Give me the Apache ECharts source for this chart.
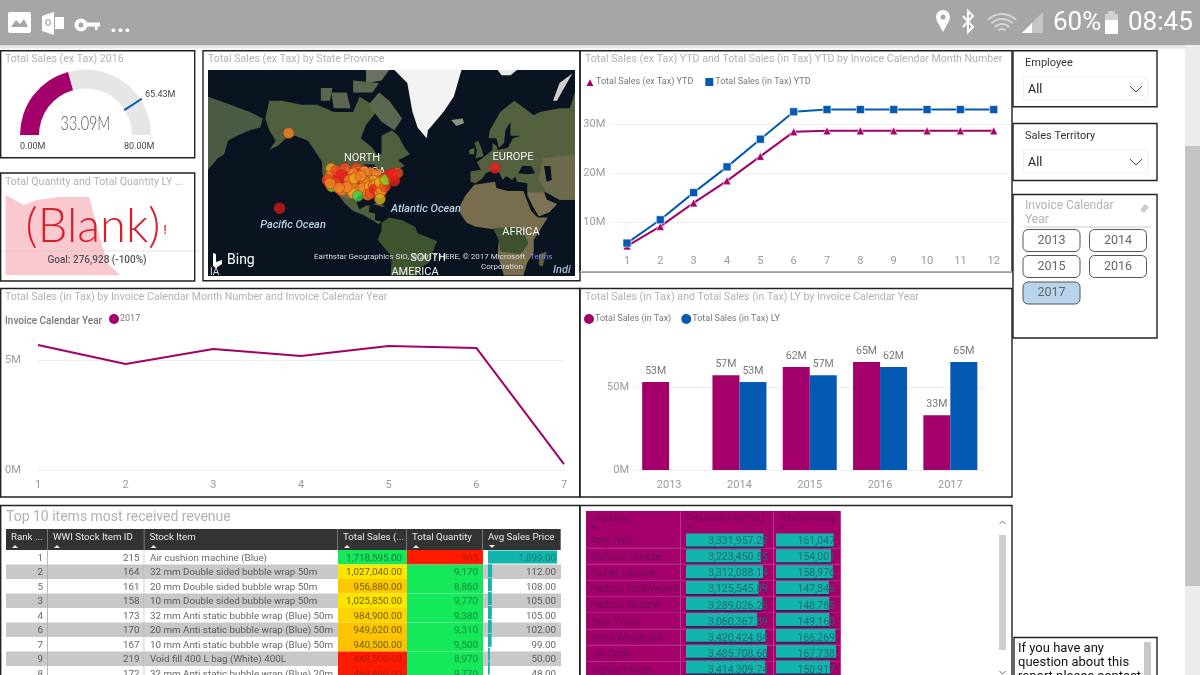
<!DOCTYPE html>
<html><head><meta charset="utf-8">
<style>html,body{margin:0;padding:0;background:#fff}#c{width:1200px;height:675px}</style>
<script src="https://cdn.jsdelivr.net/npm/echarts@6/dist/echarts.min.js"></script>
</head><body><div id="c"></div>
<script>
// ---------- data ----------
const gaugeValue = 33.09, gaugeTarget = 65.43, gaugeMax = 80;
const kpiX = [0,16,27,47,73,83,89,100];
const kpiQty = [80,70,75,78,78,35,12,0];
const ytdMonths = ['1','2','3','4','5','6','7','8','9','10','11','12'];
const ytdEx = [5.2,9.2,14,18.5,23.5,28.5,28.7,28.7,28.7,28.7,28.7,28.7];
const ytdIn = [5.8,10.55,16.1,21.35,27,32.6,33.05,33.05,33.05,33.05,33.05,33.05];
const monthNums = ['1','2','3','4','5','6','7'];
const month2017 = [5.68,4.82,5.5,5.18,5.64,5.55,0.27];
const years = ['2013','2014','2015','2016','2017'];
const salesIn = [53,57,62,65,33];
const salesLY = [null,53,57,62,65];
const statePlaces = [
 [-150,61,'o'],[-157,19,'d'],[10,45,'r'],
 [-117.1,44.7,'g'],[-117.9,40.2,'o'],[-116.6,34,'l'],[-111.5,41,'r'],[-106.3,44.7,'s'],[-104.2,39.6,'r'],
 [-108.6,36.1,'r'],[-113.5,36.1,'s'],[-108.9,31.5,'o'],[-102.4,32,'g'],[-97.2,44.7,'s'],[-96.7,41,'r'],[-96.5,37.5,'r'],
 [-86.4,42.2,'o'],[-91.3,43,'o'],[-81.7,41.6,'o'],[-89.5,34.9,'g'],[-94.7,32.4,'g'],[-101.1,35.5,'o'],[-84.3,37.5,'g'],[-91.3,37.5,'o'],
 [-113,43.5,'s'],[-109,41,'r'],[-100,42,'o'],[-103,38,'o'],[-99,39,'g'],[-94,40.5,'o'],[-92,33,'o'],[-87,34,'g'],[-84,34.5,'o'],[-82,35,'g'],
 [-100,29.5,'g'],[-105,33.5,'o'],[-111,33,'o'],[-120,38,'s'],[-118,36,'o'],[-76,39,'s'],[-73,40.5,'r'],
 [-96.2,27.7,'m'],[-88.7,28.5,'o'],[-86.4,29.5,'s'],[-83,32.2,'r'],[-79.2,30,'g'],[-77.9,31.4,'o'],[-79.2,36.5,'g'],[-75.3,34,'s'],
 [-74.8,38.1,'l'],[-79.2,25.5,'y'],[-68.8,40.6,'r'],[-65.5,42.2,'s'],[-68.1,37.5,'r'],[-70.1,41.6,'r']
];
const itemRank = [1,2,5,3,4,6,7,9,8];
const itemId = [215,164,161,158,173,170,167,219,172];
const itemName = ['Air cushion machine (Blue)','32 mm Double sided bubble wrap 50m','20 mm Double sided bubble wrap 50m','10 mm Double sided bubble wrap 50m','32 mm Anti static bubble wrap (Blue) 50m','20 mm Anti static bubble wrap (Blue) 50m','10 mm Anti static bubble wrap (Blue) 50m','Void fill 400 L bag (White) 400L','32 mm Anti static bubble wrap (Blue) 20m'];
const itemSales = [1718595,1027040,956880,1025850,984900,949620,940500,448500,468960];
const itemQty = [905,9170,8860,9770,9380,9310,9500,8970,9770];
const itemPrice = [1899,112,108,105,105,102,99,50,48];
const itemHeaders = ['Rank ...','WWI Stock Item ID','Stock Item','Total Sales (...','Total Quantity','Avg Sales Price'];
const empNames = ['Amy Trefl','Anthony Grosse','Archer Lamble','Hudson Hollinworth','Hudson Onslow','Jack Potter','Kayla Woodcock','Lily Code','Sophia Hinton'];
const empSales = [3331957.22,3223450.55,3312088.14,3125545.89,3289026.25,3060367.89,3420424.84,3485708.68,3414309.74];
const empQty = [161047,154001,158976,147846,148785,149160,166269,167738,150917];
const empHeaders = ['Employee','Total Sales (in Tax)','Total Quantity'];
const yearSlicer = ['2013','2014','2015','2016','2017'];

// ---------- base map outlines (rough lon/lat) ----------
const land = {
 ocean:[[-212.5,-31.4],[72,-31.4],[72,77.4],[-212.5,77.4]],
 siberia:[[-212.5,72],[-195,70],[-180,68],[-170,66],[-172,63],[-180,62],[-190,60],[-197,58],[-200,52],[-205,50],[-212.5,44]],
 northAmerica:[[-168,66],[-165,71],[-155,71],[-140,70],[-128,70],[-115,68],[-100,68],[-95,72],[-85,70],[-82,68],[-90,64],[-94,59],[-85,55],[-82,52],[-78,52],[-78,60],[-70,62],[-65,60],[-60,55],[-56,52],[-65,49],[-60,46],[-66,44],[-70,43],[-74,40],[-76,35],[-81,31],[-80,26],[-82,27],[-84,30],[-90,29],[-97,27],[-97,22],[-95,18],[-90,21],[-87,21],[-88,16],[-83,15],[-83,10],[-78,9],[-80,7],[-85,10],[-92,14],[-100,17],[-106,22],[-112,29],[-115,31],[-118,34],[-122,38],[-124,42],[-124,48],[-130,54],[-135,58],[-145,60],[-152,59],[-158,56],[-165,54],[-160,58],[-165,62]],
 usWest:[[-122,38],[-118,34],[-115,31],[-106,26],[-100,26],[-98,32],[-101,46],[-118,46]],
 greatLakes:[[-92,47],[-84,47],[-80,44],[-83,42],[-87,42],[-88,45]],
 baffin:[[-80,73],[-72,71],[-62,66],[-68,62],[-78,65],[-88,70]],
 victoria:[[-117,73],[-105,73],[-102,69],[-115,69]],
 ellesmere:[[-90,77.4],[-72,77.4],[-78,75.5],[-90,75]],
 banks:[[-125,74],[-116,74],[-118,71],[-125,71]],
 devon:[[-100,75.5],[-80,75],[-85,73],[-100,73]],
 greenland:[[-68,77.4],[-16,77.4],[-22,72],[-30,68],[-42,62],[-43,59],[-50,63],[-54,68],[-58,75]],
 iceland:[[-24,65.5],[-15,66],[-14,64.5],[-20,63.5]],
 svalbard:[[12,77.4],[27,77.4],[22,76.5],[15,76.5]],
 novaya:[[55,71],[60,75],[70,76.8],[68,76],[58,71]],
 eurasia:[[-9,37],[-9,43],[-1,44],[-4,48],[2,51],[8,54],[8,57],[11,56],[12,54],[20,55],[24,59],[30,60],[22,60],[22,65],[18,62],[17,57],[13,55],[11,59],[5,59],[6,62],[14,68],[25,71],[40,67],[45,68],[60,69],[68,69],[72,73],[72,25],[60,25],[56,27],[50,30],[48,30],[50,25],[58,22],[52,16],[44,13],[39,21],[35,28],[35,36],[27,37],[26,40],[23,38],[20,40],[18,40],[16,38],[12,44],[9,44],[3,42],[0,39],[-5,36]],
 centralAsia:[[47,50],[72,52],[72,25],[60,25],[56,27],[50,30],[44,38]],
 arabia:[[35,30],[48,30],[50,25],[58,22],[52,16],[44,13],[39,21]],
 blackSea:[[28,42],[31,46],[38,46],[41,42],[35,41.5]],
 caspian:[[48,46],[53,46],[54,38],[50,37]],
 britain:[[-5,50],[1,51],[0,54],[-3,58],[-6,57],[-4,54]],
 ireland:[[-10,52],[-6,52],[-6,55],[-10,54]],
 africa:[[-17,15],[-17,21],[-13,28],[-6,35],[10,37],[11,33],[20,31],[32,31],[35,24],[38,17],[43,12],[51,12],[40,-5],[40,-15],[35,-22],[32,-31],[17,-31],[12,-17],[13,-5],[9,3],[-5,5],[-12,8]],
 congo:[[9,4],[30,5],[36,-8],[30,-16],[14,-14],[13,-5]],
 madagascar:[[44,-16],[50,-14],[47,-25],[44,-24]],
 southAmerica:[[-78,8],[-72,12],[-62,10],[-52,5],[-50,0],[-35,-6],[-39,-16],[-41,-22],[-48,-26],[-50,-31],[-71,-31],[-70,-18],[-81,-5],[-78,2]],
 cuba:[[-85,22],[-80,23],[-75,20],[-78,20]]
};
const landColor = {ocean:'#091420',siberia:'#4c5c44',northAmerica:'#505f3d',usWest:'#6c6a4a',greatLakes:'#12202e',baffin:'#5d6650',victoria:'#5d6650',ellesmere:'#6b7060',banks:'#5d6650',devon:'#5d6650',greenland:'#f2f3f1',iceland:'#8d9484',svalbard:'#e8e8e8',novaya:'#cfd0cc',eurasia:'#55603f',centralAsia:'#6e6a4e',arabia:'#7d7254',blackSea:'#091420',caspian:'#091420',britain:'#4f5f3d',ireland:'#4f6a3d',africa:'#786e4e',congo:'#3f5230',madagascar:'#5b5f3d',southAmerica:'#3f5530',cuba:'#4f5f3d'};
const placeColor = {r:'#e8201e',d:'#d01616',s:'#ee4a1c',o:'#ef8420',g:'#e8a81e',y:'#d8b81e',l:'#82d828',m:'#32d84a'};

const geoJson = {type:'FeatureCollection',features:Object.keys(land).map(n=>({type:'Feature',properties:{name:n},geometry:{type:'Polygon',coordinates:[land[n].concat([land[n][0]])]}}))};
echarts.registerMap('bingBase',geoJson);
const R2D = 180/Math.PI;
const mercator = {
  project:p=>[p[0],-Math.log(Math.tan(Math.PI/4+p[1]/R2D/2))*R2D],
  unproject:p=>[p[0],(2*Math.atan(Math.exp(-p[1]/R2D))-Math.PI/2)*R2D]
};

// ---------- style ----------
const PURPLE='#a3006b', BLUE='#0459b3', TEAL='#12b5ab', FONT='Roboto,"Open Sans",sans-serif', TGRAY='#b2b2b2', AXIS='#9a9a9a';
const g=[];
const R=(x,y,w,h,fill,stroke,lw,r,z)=>g.push({type:'rect',z:z==null?0:z,silent:true,shape:{x,y,width:w,height:h,r:r||0},style:{fill:fill||'transparent',stroke:stroke||null,lineWidth:lw||0}});
const T=(text,x,y,font,fill,align,z)=>g.push({type:'text',z:z==null?10:z,silent:true,style:{text,x,y:y+1,font,fill,align:align||'left',verticalAlign:'middle'}});
const L=(pts,stroke,lw,z)=>g.push({type:'polyline',z:z==null?10:z,silent:true,shape:{points:pts},style:{stroke,lineWidth:lw,fill:'none'}});
const P=(pts,fill,z)=>g.push({type:'polygon',z:z==null?10:z,silent:true,shape:{points:pts},style:{fill}});
const C=(cx,cy,r,fill,z)=>g.push({type:'circle',z:z==null?10:z,silent:true,shape:{cx,cy,r},style:{fill}});
const A=(cx,cy,r,a0,a1,stroke,lw)=>g.push({type:'arc',z:10,silent:true,shape:{cx,cy,r,startAngle:a0,endAngle:a1},style:{stroke,lineWidth:lw,fill:'none'}});

// top bars
R(0,0,1200,45,'#a6a6a6');
g.push({type:'rect',z:0,silent:true,shape:{x:0,y:45,width:1185,height:5},style:{fill:new echarts.graphic.LinearGradient(0,0,0,1,[{offset:0,color:'#d8d8d8'},{offset:1,color:'#ffffff'}])}});
R(1185,45,15,630,'#ececec'); R(1185,146,15,440,'#c4c4c4');
// status icons
R(8,12,23,21,'#fff',null,0,2,10); P([[11,27],[16,20],[20,24],[24,19],[28,27]],'#a6a6a6');
P([[42,16],[54,12],[54,35],[42,31]],'#fff'); T('O',48,23,'bold 9px '+FONT,'#a6a6a6','center'); R(55,17,9,12,'#fff',null,0,0,10);
C(81,25,6.5,'#fff'); C(81,25,2.5,'#a6a6a6'); R(86,22.5,14,4,'#fff',null,0,0,10); R(95,25,2.5,5,'#fff',null,0,0,10);
T('...',110,25,'bold 24px '+FONT,'#fff');
C(943,17,7,'#fff'); P([[937,21],[949,21],[943,32]],'#fff'); C(943,17,2.5,'#a6a6a6');
L([[963,16],[973,27],[968,32],[968,11],[973,16],[963,27]],'#fff',2);
for(const r of [5,10,15,20]) A(1002,34,r,Math.PI*1.25,Math.PI*1.75,'#d4d4d4',2);
P([[1022,33],[1043,12],[1043,33]],'#c6c6c6'); P([[1022,33],[1032,23],[1032,33]],'#fff');
T('60%',1053,22,'400 26px Roboto,sans-serif','#fff');
R(1105,14,13,20,'#fff',null,0,1,10); R(1105,14,13,6,'#d0d0d0',null,0,1,11); R(1108,11,7,3,'#d0d0d0');
T('08:45',1128,22,'400 26px Roboto,sans-serif','#fff');

// panel frames
const frame=(x,y,w,h)=>R(x,y,w,h,null,'#222',1.4,0,20);
frame(0.7,50.7,194,107); frame(203,50.7,377,230); frame(0.7,173,194,108);
frame(580,50.7,432,221); frame(0.7,288.5,579,208.5); frame(580,288.5,432,208.5);
frame(0.7,505.5,579,175); frame(580,505.5,432,175);
frame(1013,50.7,144,56); frame(1013,123.5,144,57); frame(1013,194.5,144,143.5); frame(1014,637.5,143,50);
L([[580,271.7],[1012,271.7]],'#b0b0b0',1.4,21);

// titles
const title=(t,x,y,s)=>T(t,x,y,(s||10.6)+'px '+FONT,TGRAY);
title('Total Sales (ex Tax) 2016',5,58);
title('Total Quantity and Total Quantity LY ...',5,181);
title('Total Sales (ex Tax) by State Province',208,58);
title('Total Sales (ex Tax) YTD and Total Sales (in Tax) YTD by Invoice Calendar Month Number',585,58);
title('Total Sales (in Tax) by Invoice Calendar Month Number and Invoice Calendar Year',5,296);
title('Total Sales (in Tax) and Total Sales (in Tax) LY by Invoice Calendar Year',585,296);
title('Top 10 items most received revenue',6,516,14);

// gauge captions
T('0.00M',20,146,'9px '+FONT,'#444'); T('80.00M',124,146,'9px '+FONT,'#444'); T('65.43M',145,94,'9px '+FONT,'#444');
g.push({type:'text',z:10,silent:true,x:85.5,y:124,scaleX:0.72,style:{text:gaugeValue.toFixed(2)+'M',x:0,y:0,font:'300 20px Lato,Roboto,sans-serif',fill:'#555',align:'center',verticalAlign:'middle'}});
// KPI captions
T('(Blank)',93,226,'300 47px Lato,'+FONT,'#d81e2c','center',12);
T('!',165,230,'bold 12px '+FONT,'#e24a52','center',12);
T('Goal: 276,928 (-100%)',97,259,'500 10px '+FONT,'#555','center',12);
L([[0,251],[200,251]],'rgba(190,190,190,0.45)',1,12);

// map captions
const mapLbl=(t,x,y,z)=>T(t,x,y,'11px '+FONT,'#f2f2f2','center',z);
mapLbl('NORTH',362,157,6); mapLbl('AMERICA',362,171,4); mapLbl('EUROPE',513,156,6); mapLbl('AFRICA',521,231,6);
const ocean=(t,x,y)=>T(t,x,y,'italic 500 11px '+FONT,'#b9d0e4','center',6);
ocean('Pacific Ocean',293,224); ocean('Atlantic Ocean',426,208);
mapLbl('SOUTH',428,257,6); mapLbl('AMERICA',415,271,6);
T('Indi',553,269,'italic 500 11px '+FONT,'#9fbbd4','left',6);
T('IA',210,271,'10px '+FONT,'#ddd','left',6);
P([[213,253],[216,254],[216,262],[222,260],[222,264],[216,268],[213,266]],'#fff',7);
T('Bing',227,259,'14px '+FONT,'#fff','left',7);
T('Earthstar Geographics SIO, \u00a9 2017 HERE, \u00a9 2017 Microsoft',314,256,'8px '+FONT,'#ddd','left',7);
T('Terms',530,256,'8px '+FONT,'#7f8cff','left',7); T('Corporation',502,266,'8px '+FONT,'#ddd','center',7);

// slicers
const dd=(t,v,y)=>{T(t,1025,y,'11px '+FONT,'#333');R(1023.5,y+15,124,23,'#fff','#f0f0f0',1,0,5);T(v,1028,y+27,'12.5px '+FONT,'#222');L([[1130,y+24],[1136,y+30],[1142,y+24]],'#444',1);};
dd('Employee','All',62); dd('Sales Territory','All',135);
T('Invoice Calendar',1025,205,'12px '+FONT,TGRAY); T('Year',1025,219,'12px '+FONT,TGRAY);
P([[1140,210],[1145,204],[1149,207],[1144,213]],'#ccc'); L([[1025,227],[1151,227]],'#ddd',1.5);
const slots=[[1023,229.5],[1089.5,229.5],[1023,255.5],[1089.5,255.5],[1023,282]];
yearSlicer.forEach((y,i)=>{const s=slots[i],sel=y==='2017';R(s[0],s[1],57,22,sel?'#b8d3ec':'#fff','#555',1,5,5);T(y,s[0]+28.5,s[1]+10,'12.5px '+FONT,'#666','center');});

// text box
T('If you have any',1018,648,'13px Roboto,sans-serif','#111'); T('question about this',1018,662,'13px Roboto,sans-serif','#111'); T('report please contact',1018,676,'13px Roboto,sans-serif','#111');
R(1144,642,7,33,'#c8c8c8',null,0,0,11);
// employee panel scrollbar
R(999,535,7,115,'#cfcfcf',null,0,0,5);
L([[999.5,524],[1002.5,521],[1005.5,524]],'#666',1); L([[999.5,671],[1002.5,674],[1005.5,671]],'#666',1);

// ---------- tables ----------
function scale(v,stops){
  if(v<=stops[0][0])return stops[0][1];
  for(let i=1;i<stops.length;i++){ if(v<=stops[i][0]){
    const t=(v-stops[i-1][0])/(stops[i][0]-stops[i-1][0]);
    const a=echarts.color.parse(stops[i-1][1]),b=echarts.color.parse(stops[i][1]);
    return 'rgb('+[0,1,2].map(k=>Math.round(a[k]+(b[k]-a[k])*t)).join(',')+')';}}
  return stops[stops.length-1][1];
}
const salesStops=[[470000,'#ff1a00'],[940000,'#ffc000'],[1030000,'#ffe600'],[1718595,'#16e85c']];
const qtyStops=[[905,'#ff1a00'],[8000,'#16e85c']];
const fmt=(v,d)=>v.toLocaleString('en-US',{minimumFractionDigits:d,maximumFractionDigits:d});
const HDR=1.45, colEdges=[0,42,138.5,332,401,477,555];
const itemBg=[],itemTx=[];
const HFONT='9.7px '+FONT, CFONT='9.8px '+FONT;
itemHeaders.forEach((h,c)=>{
  itemBg.push({x0:colEdges[c],x1:colEdges[c+1],r0:-HDR,r1:0,fill:'#333333',sep:'#888'});
  itemTx.push({x:colEdges[c]+5,r:-HDR+0.55,t:h,color:'#e8e8e8',align:'left',arrow:c==5?'down':'up',font:HFONT});
});
itemRank.forEach((rk,i)=>{
  const band=i%2?'#c8c8c8':'#ffffff';
  const cols=[band,band,band,scale(itemSales[i],salesStops),scale(itemQty[i],qtyStops),band];
  cols.forEach((f,c)=>itemBg.push({x0:colEdges[c],x1:colEdges[c+1],r0:i,r1:i+1,fill:f,sep:c<2?'#aaa':null}));
  const dark=i%2?'#5a5a5a':'#666';
  const tc=itemSales[i]<500000?'#b51a10':'#6a5f00';
  const qc=itemQty[i]<1000?'#b51a10':'#0b8a38';
  const sc=itemSales[i]>1500000?'#0b7a35':tc;
  itemTx.push({x:colEdges[1]-5,r:i+.5,t:String(rk),color:dark,align:'right'});
  itemTx.push({x:colEdges[2]-5,r:i+.5,t:String(itemId[i]),color:dark,align:'right'});
  itemTx.push({x:colEdges[2]+5.5,r:i+.5,t:itemName[i],color:dark,align:'left'});
  itemTx.push({x:colEdges[4]-5,r:i+.5,t:fmt(itemSales[i],2),color:sc,align:'right'});
  itemTx.push({x:colEdges[5]-5,r:i+.5,t:fmt(itemQty[i],0),color:qc,align:'right'});
  itemTx.push({x:colEdges[6]-5,r:i+.5,t:fmt(itemPrice[i],2),color:i==0?'#0e7f78':dark,align:'right'});
});
const EHDR=1.3, empEdges=[0,95,188,255];
const empBg=[],empTx=[];
empEdges.slice(0,3).forEach((e,c)=>{empBg.push({x0:e,x1:empEdges[c+1],r0:-EHDR,r1:0,fill:PURPLE,sep:'#c040a0'});
  empTx.push({x:e+4,r:-EHDR+.4,t:empHeaders[c],color:'#6f0f58',align:'left',arrow:'up',arrowColor:'#6a0f50',font:'9.4px '+FONT});});
empNames.forEach((n,i)=>{
  empEdges.slice(0,3).forEach((e,c)=>empBg.push({x0:e,x1:empEdges[c+1],r0:i,r1:i+1,fill:PURPLE,sep:'#c040a0',bottom:'#bb3092'}));
  empTx.push({x:4,r:i+.5,t:n,color:'#6f0f58',align:'left',font:'10px '+FONT});
  empTx.push({x:182,r:i+.5,t:fmt(empSales[i],2),color:'#206a78',align:'right',font:'10.5px '+FONT});
  empTx.push({x:249,r:i+.5,t:fmt(empQty[i],0),color:'#206a78',align:'right',font:'10.5px '+FONT});
});
function bgSeries(grid,cells,z){return {type:'custom',coordinateSystem:'cartesian2d',xAxisIndex:grid,yAxisIndex:grid,silent:true,z,
  data:cells.map(c=>[c.x0,c.r0]),encode:{x:0,y:1},
  renderItem(p,api){const c=cells[p.dataIndex];const a=api.coord([c.x0,c.r0]),b=api.coord([c.x1,c.r1]);
    const kids=[{type:'rect',shape:{x:a[0],y:a[1],width:b[0]-a[0],height:b[1]-a[1]},style:{fill:c.fill}}];
    if(c.sep)kids.push({type:'rect',shape:{x:b[0]-.8,y:a[1],width:.8,height:b[1]-a[1]},style:{fill:c.sep}});
    if(c.bottom)kids.push({type:'rect',shape:{x:a[0],y:b[1]-.6,width:b[0]-a[0],height:.6},style:{fill:c.bottom}});
    return {type:'group',children:kids};}};}
function txSeries(grid,cells,z){return {type:'custom',coordinateSystem:'cartesian2d',xAxisIndex:grid,yAxisIndex:grid,silent:true,z,
  data:cells.map(c=>[c.x,c.r]),encode:{x:0,y:1},
  renderItem(p,api){const c=cells[p.dataIndex];const a=api.coord([c.x,c.r]);
    const kids=[{type:'text',style:{text:c.t,x:a[0],y:a[1]+1,fill:c.color,font:c.font||CFONT,align:c.align,verticalAlign:'middle'}}];
    if(c.arrow){const d=c.arrow=='up'?-1:1,ax=a[0]+4,ay=a[1]+9.5;kids.push({type:'polygon',shape:{points:[[ax-3,ay-d*1.5],[ax+3,ay-d*1.5],[ax,ay+d*1.5]]},style:{fill:c.arrowColor||'#eee'}});}
    return {type:'group',children:kids};}};}

// ---------- axes helpers ----------
const hiddenVal=(o)=>Object.assign({type:'value',show:false,splitLine:{show:false}},o);
const axisTxt={color:AXIS,fontSize:11,fontFamily:FONT};
const rowsCat=n=>({type:'category',show:false,inverse:true,data:n});

const grids=[
 {left:610.3,width:400.1,top:100,height:171.5},          // 0 YTD
 {left:38,width:526,top:338,height:132},                 // 1 month
 {left:634,width:351.5,top:338,height:132},              // 2 bar
 {left:5.5,width:114.5,top:195,height:80},               // 3 KPI
 {left:6,width:555,top:529,height:146},                  // 4 items table
 {left:488,width:69,top:550,height:130.5},               // 5 avg bars
 {left:586,width:255,top:511,height:164},                // 6 employee table
 {left:686,width:81,top:532,height:145.8},               // 7 emp sales
 {left:776,width:60,top:532,height:145.8}                // 8 emp qty
];
const xAxis=[
 {gridIndex:0,type:'category',data:ytdMonths,axisLine:{show:false},axisTick:{show:false},axisLabel:Object.assign({margin:-16},axisTxt)},
 {gridIndex:1,type:'category',data:monthNums,boundaryGap:false,axisLine:{show:false},axisTick:{show:false},axisLabel:Object.assign({margin:10},axisTxt)},
 {gridIndex:2,type:'category',data:years,axisLine:{show:false},axisTick:{show:false},axisLabel:Object.assign({margin:10},axisTxt)},
 hiddenVal({gridIndex:3,min:0,max:100}),
 hiddenVal({gridIndex:4,min:0,max:555}),
 hiddenVal({gridIndex:5,min:0,max:1899}),
 hiddenVal({gridIndex:6,min:0,max:255}),
 hiddenVal({gridIndex:7,min:0,max:3485708.68}),
 hiddenVal({gridIndex:8,min:0,max:167738})
];
const yTxt={formatter:v=>v+'M',margin:5,color:AXIS,fontSize:11,fontFamily:FONT,showMaxLabel:false};
const yAxis=[
 {gridIndex:0,type:'value',min:0,max:35,interval:10,axisLine:{show:false},axisTick:{show:false},splitLine:{showMinLine:false,showMaxLine:false,lineStyle:{color:'#f0f0f0'}},axisLabel:Object.assign({},yTxt,{showMinLabel:false})},
 {gridIndex:1,type:'value',min:0,max:6,interval:5,axisLine:{show:false},axisTick:{show:false},splitLine:{showMaxLine:false,lineStyle:{color:'#eeeeee'}},axisLabel:Object.assign({},yTxt,{align:'left',margin:33})},
 {gridIndex:2,type:'value',min:0,max:79.5,interval:50,axisLine:{show:false},axisTick:{show:false},splitLine:{showMaxLine:false,lineStyle:{color:'#eeeeee'}},axisLabel:Object.assign({},yTxt)},
 hiddenVal({gridIndex:3,min:0,max:80}),
 hiddenVal({gridIndex:4,inverse:true,min:-HDR,max:146/14.5-HDR}),
 Object.assign(rowsCat(itemRank.map(String)),{gridIndex:5}),
 hiddenVal({gridIndex:6,inverse:true,min:-EHDR,max:164/16.2-EHDR}),
 Object.assign(rowsCat(empNames),{gridIndex:7}),
 Object.assign(rowsCat(empNames),{gridIndex:8})
];

const series=[
 // gauge
 {type:'gauge',z:3,center:[85.5,135],radius:65.5,startAngle:180,endAngle:0,min:0,max:gaugeMax,
  axisLine:{lineStyle:{width:19,color:[[gaugeValue/gaugeMax,PURPLE],[1,'#e6e6e6']]}},axisTick:{show:false},splitLine:{show:false},axisLabel:{show:false},
  pointer:{show:false},anchor:{show:false},title:{show:false},detail:{show:false},
  data:[{value:gaugeValue}],silent:true},
 {type:'gauge',z:4,center:[85.5,135],radius:65.5,startAngle:180,endAngle:0,min:0,max:gaugeMax,
  axisLine:{show:false},axisTick:{show:false},splitLine:{show:false},axisLabel:{show:false},anchor:{show:false},title:{show:false},detail:{show:false},
  pointer:{show:true,icon:'rect',length:21,width:2,offsetCenter:[0,-46],itemStyle:{color:BLUE}},
  data:[{value:gaugeTarget}],silent:true},
 // map
 {type:'scatter',coordinateSystem:'geo',geoIndex:0,z:5,silent:true,symbolSize:11,
  data:statePlaces.map(p=>({value:[p[0],p[1]],itemStyle:{color:placeColor[p[2]],opacity:.8,borderColor:'rgba(170,40,20,.75)',borderWidth:.8}}))},
 // YTD
 {name:'Total Sales (ex Tax) YTD',type:'line',xAxisIndex:0,yAxisIndex:0,data:ytdEx,color:PURPLE,symbol:'triangle',symbolSize:8,lineStyle:{width:2},itemStyle:{borderColor:'#fff',borderWidth:.6}},
 {name:'Total Sales (in Tax) YTD',type:'line',xAxisIndex:0,yAxisIndex:0,data:ytdIn,color:BLUE,symbol:'rect',symbolSize:8,lineStyle:{width:2},itemStyle:{borderColor:'#fff',borderWidth:.6}},
 // month
 {name:'2017',type:'line',xAxisIndex:1,yAxisIndex:1,data:month2017,color:PURPLE,symbol:'none',lineStyle:{width:2}},
 // bars
 {name:'Total Sales (in Tax)',type:'bar',xAxisIndex:2,yAxisIndex:2,data:salesIn,color:PURPLE,barWidth:27,barGap:'0%',label:{show:true,position:'top',distance:5,formatter:p=>p.value+'M',color:'#777',fontSize:10.5,fontFamily:FONT}},
 {name:'Total Sales (in Tax) LY',type:'bar',xAxisIndex:2,yAxisIndex:2,data:salesLY,color:BLUE,barWidth:27,barGap:'0%',label:{show:true,position:'top',distance:5,formatter:p=>p.value+'M',color:'#777',fontSize:10.5,fontFamily:FONT}},
 // KPI area
 {type:'line',xAxisIndex:3,yAxisIndex:3,z:1,silent:true,symbol:'none',lineStyle:{width:0},areaStyle:{color:'#f9c9cf',opacity:1},data:kpiX.map((x,i)=>[x,kpiQty[i]])},
 // tables
 bgSeries(4,itemBg,2),
 {type:'bar',xAxisIndex:5,yAxisIndex:5,z:3,silent:true,barWidth:13,color:TEAL,data:itemPrice},
 txSeries(4,itemTx,4),
 bgSeries(6,empBg,2),
 {type:'bar',xAxisIndex:7,yAxisIndex:7,z:3,silent:true,barWidth:13,data:empSales,itemStyle:{color:TEAL,shadowColor:'rgba(10,40,90,.7)',shadowOffsetY:1.5,shadowBlur:0}},
 {type:'bar',xAxisIndex:8,yAxisIndex:8,z:3,silent:true,barWidth:13,data:empQty,itemStyle:{color:TEAL,shadowColor:'rgba(10,40,90,.7)',shadowOffsetY:1.5,shadowBlur:0}},
 txSeries(6,empTx,4)
];
const legendBase={orient:'horizontal',itemWidth:10,itemHeight:10,itemGap:10,selectedMode:false,textStyle:{color:'#777',fontSize:9,fontFamily:FONT,padding:[0,0,0,-4]}};
const legend=[
 Object.assign({},legendBase,{left:579,top:71,data:[{name:'Total Sales (ex Tax) YTD',icon:'triangle'},{name:'Total Sales (in Tax) YTD',icon:'rect'}]}),
 Object.assign({},legendBase,{left:104,top:309,data:[{name:'2017',icon:'circle'}]}),
 Object.assign({},legendBase,{left:579,top:309,data:[{name:'Total Sales (in Tax)',icon:'circle'},{name:'Total Sales (in Tax) LY',icon:'circle'}]})
];
T('Invoice Calendar Year',5,320,'500 10px '+FONT,'#777');

const chart=echarts.init(document.getElementById('c'),null,{renderer:'canvas',width:1200,height:675});
chart.setOption({
  animation:false,backgroundColor:'#fff',
  tooltip:{show:false},
  grid:grids,xAxis,yAxis,series,legend,
  geo:{map:'bingBase',projection:mercator,left:208,top:70,width:367,height:206,roam:false,silent:true,z:1,
    label:{show:false},itemStyle:{borderWidth:0,areaColor:'#505f3d'},
    regions:Object.keys(landColor).map(n=>({name:n,silent:true,itemStyle:{areaColor:landColor[n],borderWidth:0}}))},
  graphic:{elements:g}
});
</script></body></html>
